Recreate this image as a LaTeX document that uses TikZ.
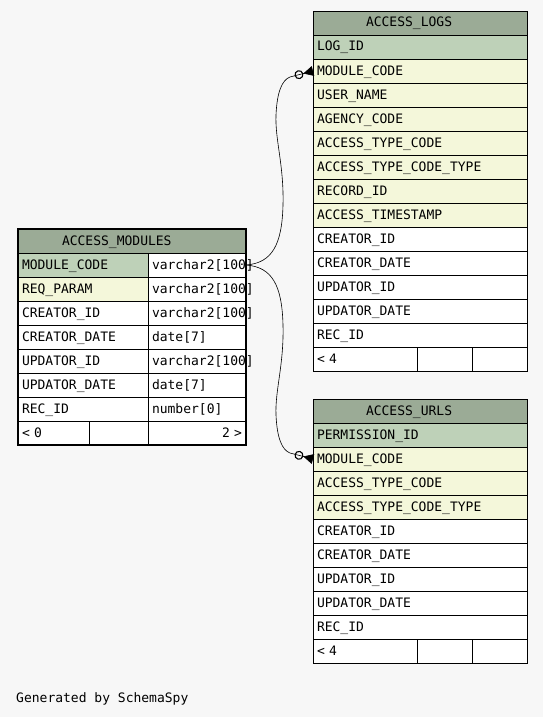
\documentclass[tikz,border=0pt]{standalone}
\usepackage{fontspec}
\setmonofont{DejaVu Sans Mono}
\usetikzlibrary{arrows.meta}

\definecolor{diagbg}{HTML}{F7F7F7}
\definecolor{headcol}{HTML}{9BAB96}
\definecolor{pkcol}{HTML}{BED1B8}
\definecolor{fkcol}{HTML}{F4F7DA}

\tikzset{
  cell/.style={draw, rectangle, anchor=north west, fill=white,
    minimum height=24pt, inner xsep=4pt, inner ysep=0pt, outer sep=0pt,
    text height=10pt, text depth=2pt, align=left, line width=0.8pt,
    font=\ttfamily\fontsize{13}{15}\selectfont},
  wide/.style={cell, text width=206pt},
  namecol/.style={cell, text width=122pt},
  typecol/.style={cell, text width=90pt},
  fk/.style={line width=0.6pt,
    -{Circle[open,length=9pt,line width=1.1pt] Triangle[reversed,length=10pt,width=10pt]}}
}

\begin{document}
\begin{tikzpicture}[x=1pt,y=-1pt]
\fill[diagbg] (0,0) rectangle (543,717);
\useasboundingbox (0,0) rectangle (543,717);

% ACCESS_LOGS
\node[wide, fill=headcol] (logs) at (313,11) {\hspace*{49pt}ACCESS\_LOGS};
\foreach \key/\txt/\cl [count=\i] in {logid/LOG\_ID/pkcol, modcode/MODULE\_CODE/fkcol,
    username/USER\_NAME/fkcol, agency/AGENCY\_CODE/fkcol, acctype/ACCESS\_TYPE\_CODE/fkcol,
    acctypetype/ACCESS\_TYPE\_CODE\_TYPE/fkcol, record/RECORD\_ID/fkcol,
    stamp/ACCESS\_TIMESTAMP/fkcol, creator/CREATOR\_ID/white, cdate/CREATOR\_DATE/white,
    updator/UPDATOR\_ID/white, udate/UPDATOR\_DATE/white, recid/REC\_ID/white}
  \node[wide, fill=\cl] (logs-\key) at (313,{11+24*\i}) {\txt};
\node[cell, text width=96pt] (logs-foot1) at (313,347) {< 4};
\node[cell, text width=47pt] (logs-foot2) at (417,347) {};
\node[cell, text width=47pt] (logs-foot3) at (472,347) {};

% ACCESS_URLS
\node[wide, fill=headcol] (urls) at (313,399) {\hspace*{49pt}ACCESS\_URLS};
\foreach \key/\txt/\cl [count=\i] in {permid/PERMISSION\_ID/pkcol, modcode/MODULE\_CODE/fkcol,
    acctype/ACCESS\_TYPE\_CODE/fkcol, acctypetype/ACCESS\_TYPE\_CODE\_TYPE/fkcol,
    creator/CREATOR\_ID/white, cdate/CREATOR\_DATE/white, updator/UPDATOR\_ID/white,
    udate/UPDATOR\_DATE/white, recid/REC\_ID/white}
  \node[wide, fill=\cl] (urls-\key) at (313,{399+24*\i}) {\txt};
\node[cell, text width=96pt] (urls-foot1) at (313,639) {< 4};
\node[cell, text width=47pt] (urls-foot2) at (417,639) {};
\node[cell, text width=47pt] (urls-foot3) at (472,639) {};

% ACCESS_MODULES
\node[cell, text width=220pt, fill=headcol] (mods) at (18,229) {\hspace*{40pt}ACCESS\_MODULES};
\foreach \key/\txt/\typ/\cl [count=\i] in {modcode/MODULE\_CODE/varchar2[100]/pkcol,
    reqparam/REQ\_PARAM/varchar2[100]/fkcol, creator/CREATOR\_ID/varchar2[100]/white,
    cdate/CREATOR\_DATE/date[7]/white, updator/UPDATOR\_ID/varchar2[100]/white,
    udate/UPDATOR\_DATE/date[7]/white, recid/REC\_ID/number[0]/white}
{
  \node[namecol, fill=\cl] (mods-\key) at (18,{229+24*\i}) {\txt};
  \node[typecol] (mods-\key-t) at (148,{229+24*\i}) {\typ};
}
\node[cell, text width=63pt] (mods-foot1) at (18,421) {< 0};
\node[cell, text width=51pt] (mods-foot2) at (89,421) {};
\node[cell, text width=90pt, align=right] (mods-foot3) at (148,421) {2 >};
\draw[line width=2.8pt] (mods.north west) rectangle (mods-foot3.south east);

% relationships
\draw[fk] (mods-modcode-t.east) .. controls (272,263) and (282,245) .. (283,205)
  .. controls (284,165) and (275,140) .. (276,115)
  .. controls (277,92) and (282,80) .. (290,77) -- (logs-modcode.west);
\draw[fk] (mods-modcode-t.east) .. controls (272,267) and (282,285) .. (283,325)
  .. controls (284,365) and (275,390) .. (276,415)
  .. controls (277,438) and (282,450) .. (290,453) -- (urls-modcode.west);

\node[anchor=base west, inner sep=0pt, font=\ttfamily\fontsize{13}{15}\selectfont]
  (credit) at (16,702) {Generated by SchemaSpy};
\end{tikzpicture}
\end{document}
